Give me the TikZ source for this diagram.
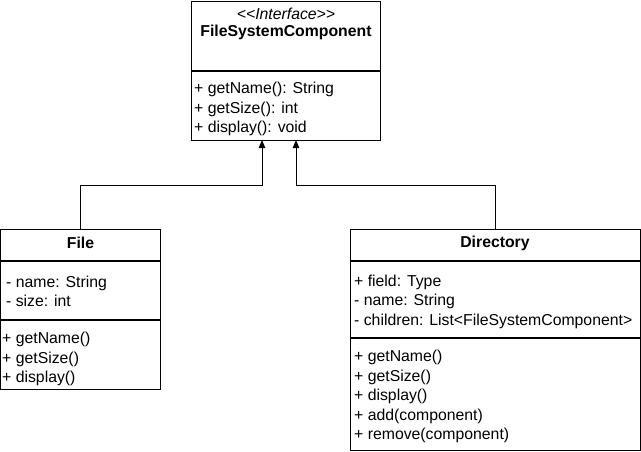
\documentclass[tikz,border=0pt]{standalone}
\usepackage{fontspec}
\setmainfont{Liberation Sans}
\usepackage{tikz}
\usetikzlibrary{arrows.meta,positioning,calc}
\tikzset{
  classbox/.style={draw,line width=1pt,inner sep=0pt,outer sep=0pt,anchor=north west},
  sepline/.style={line width=1.4pt},
  members/.style={inner sep=0pt,align=left,anchor=west,font=\fontsize{15.8}{19.5}\selectfont},
  title/.style={inner sep=0pt,font=\fontsize{15.8}{18}\selectfont\bfseries},
  inherit/.style={line width=1pt,-{Triangle[length=8pt,width=6.5pt]}}
}

\begin{document}
\begin{tikzpicture}[x=1pt,y=-1pt]
    \useasboundingbox (0,0) rectangle (641,451);
    % interface
    \node[classbox,minimum width=189pt,minimum height=139pt] (iface) at (191,1) {};
    \draw[sepline] (iface.west |- 0,71) -- (iface.east |- 0,71);
    \node[inner sep=0pt,font=\fontsize{15.8}{18}\selectfont\itshape] (stereo) at (286,14) {{<}{<}Interface{>}{>}};
    \node[title] (ifacename) at (286,32) {FileSystemComponent};
    \node[members] (ifaceops) at (194,109) {+ getName(): String\\+ getSize(): int\\+ display(): void};
    % file
    \node[classbox,minimum width=160pt,minimum height=160pt] (file) at (0.5,229.5) {};
    \draw[sepline] (file.west |- 0,261) -- (file.east |- 0,261);
    \draw[sepline] (file.west |- 0,320) -- (file.east |- 0,320);
    \node[title] (filename) at (80.5,243) {File};
    \node[members] (fileattr) at (6,291.5) {- name: String\\- size: int};
    \node[members] (fileops) at (2,359) {+ getName()\\+ getSize()\\+ display()};
    % directory
    \node[classbox,minimum width=290pt,minimum height=221pt] (dir) at (350,229.5) {};
    \draw[sepline] (dir.west |- 0,261) -- (dir.east |- 0,261);
    \draw[sepline] (dir.west |- 0,338) -- (dir.east |- 0,338);
    \node[title] (dirname) at (495,243) {Directory};
    \node[members] (dirattr) at (354,301.5) {+ field: Type\\- name: String\\- children: List<FileSystemComponent>};
    \node[members] (dirops) at (354,396.5) {+ getName()\\+ getSize()\\+ display()\\+ add(component)\\+ remove(component)};
    % inheritance
    \coordinate (ftip) at (262,140);
    \coordinate (dtip) at (296,140);
    \draw[inherit] (file.north) -- ++(0,-44.5) -| (ftip);
    \draw[inherit] (dir.north) -- ++(0,-44.5) -| (dtip);
\end{tikzpicture}
\end{document}
